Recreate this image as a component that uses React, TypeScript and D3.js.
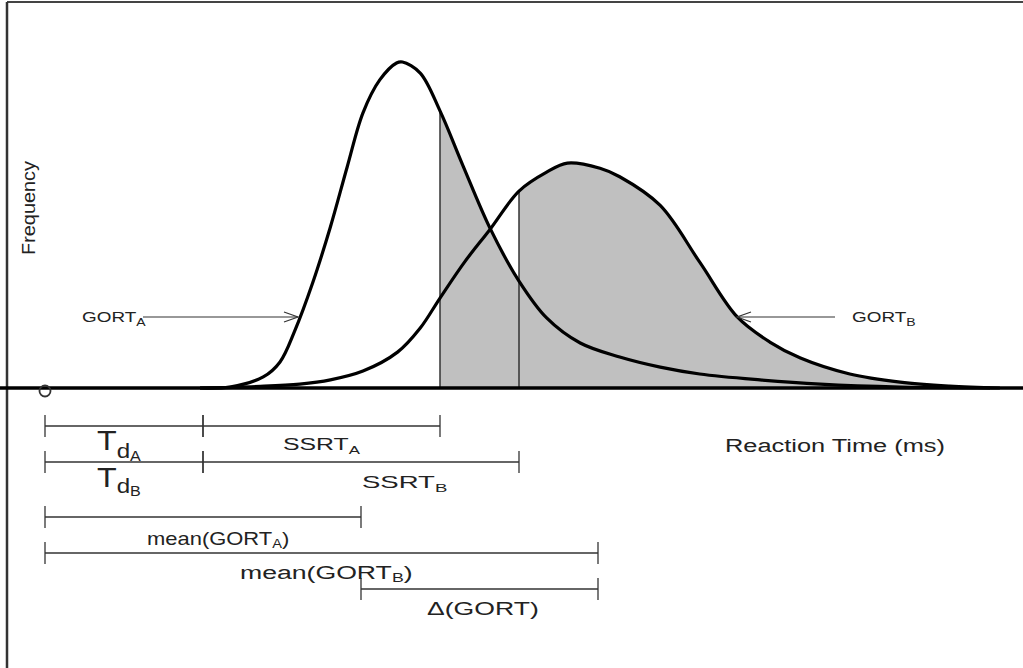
import React from "react";
import * as d3 from "d3";

// Reaction time (ms) and frequency (relative, peak of GORT_A = 100)
const timeA = [157, 187, 221, 238, 253, 271, 289, 306, 322, 339, 356, 362, 380, 400, 423, 451, 480, 508, 542, 582, 623, 663, 724, 785, 866, 957];
const freqA = [0, 0.3, 3.4, 8, 17.6, 32.2, 49.4, 67.8, 84.4, 94.5, 99.7, 100, 96.6, 85, 68.4, 48.8, 32.8, 21.5, 13.8, 9.5, 6.4, 4.3, 2.5, 1.2, 0.3, 0];
const timeB = [157, 218, 258, 289, 322, 357, 380, 400, 425, 451, 480, 508, 529, 562, 582, 623, 663, 701, 734, 765, 815, 866, 916, 967];
const freqB = [0, 0.5, 1.2, 2.5, 5.2, 11, 18.4, 27.6, 38.7, 48.8, 60.4, 66.2, 69, 67.4, 64.8, 56, 38.6, 21.8, 14.1, 9.2, 4.3, 1.8, 0.6, 0];

// Markers on the time axis (ms)
const TD = 160;
const SSRT_A_END = 400;
const SSRT_B_END = 480;
const MEAN_A = 320;
const MEAN_B = 560;

// Interval bars: from, to, row
const intervalFrom = [0, TD, 0, TD, 0, 0, MEAN_A];
const intervalTo = [TD, SSRT_A_END, TD, SSRT_B_END, MEAN_A, MEAN_B, MEAN_B];
const intervalRow = [0, 0, 1, 1, 2, 3, 4];

const W = 1023;
const H = 668;
const rowY = [426, 462, 517, 553, 589];
const FONT = "'Liberation Sans', Arial, sans-serif";
const TXT = "#222";

type Part = { t: string; size: number; dy?: number };

function Label({ x, y, sx, parts }: { x: number; y: number; sx: number; parts: Part[] }) {
  return (
    <g transform={`translate(${x},${y}) scale(${sx},1)`}>
      <text x={0} y={0} fontFamily={FONT} fill={TXT}>
        {parts.map((p, i) => (
          <tspan key={i} fontSize={p.size} y={p.dy || 0}>
            {p.t}
          </tspan>
        ))}
      </text>
    </g>
  );
}

export default function App() {
  const x = d3.scaleLinear().domain([0, 1000]).range([45, 45 + 987.5]);
  const y = d3.scaleLinear().domain([0, 100]).range([388, 62]);

  const dataA = timeA.map((t, i) => [t, freqA[i]] as [number, number]);
  const dataB = timeB.map((t, i) => [t, freqB[i]] as [number, number]);

  const curve = d3.curveCatmullRom.alpha(0.5);
  const line = d3
    .line<[number, number]>()
    .x((d) => x(d[0]))
    .y((d) => Math.min(y(0), y(d[1])))
    .curve(curve);
  const area = d3
    .area<[number, number]>()
    .x((d) => x(d[0]))
    .y0(y(0))
    .y1((d) => y(d[1]))
    .curve(curve);

  const fA = freqA[timeA.indexOf(SSRT_A_END)];
  const fB = freqB[timeB.indexOf(SSRT_B_END)];

  const arrowHead = (tipX: number, tipY: number, dir: number) =>
    `M${tipX - dir * 14},${tipY - 5} L${tipX},${tipY} L${tipX - dir * 14},${tipY + 5}`;

  return (
    <svg width={W} height={H} style={{ position: "absolute", left: 0, top: 0, background: "#fff" }}>
      <defs>
        <clipPath id="clipA">
          <rect x={x(SSRT_A_END)} y={0} width={x(SSRT_B_END) - x(SSRT_A_END)} height={y(0)} />
        </clipPath>
        <clipPath id="clipB">
          <rect x={x(SSRT_B_END)} y={0} width={W - x(SSRT_B_END)} height={y(0)} />
        </clipPath>
      </defs>

      {/* frame */}
      <line x1={7} y1={2} x2={W} y2={2} stroke="#444" strokeWidth={2} />
      <line x1={7} y1={2} x2={7} y2={H} stroke="#333" strokeWidth={2.5} />

      {/* shaded areas */}
      <path d={area(dataA) || ""} fill="#c0c0c0" clipPath="url(#clipA)" />
      <path d={area(dataB) || ""} fill="#c0c0c0" clipPath="url(#clipB)" />
      <line x1={x(SSRT_A_END)} x2={x(SSRT_A_END)} y1={y(0)} y2={y(fA)} stroke="#333" strokeWidth={1.5} />
      <line x1={x(SSRT_B_END)} x2={x(SSRT_B_END)} y1={y(0)} y2={y(fB)} stroke="#333" strokeWidth={1.5} />

      {/* curves */}
      <path d={line(dataB) || ""} fill="none" stroke="#000" strokeWidth={3.2} />
      <path d={line(dataA) || ""} fill="none" stroke="#000" strokeWidth={3.2} />

      {/* baseline */}
      <line x1={0} x2={W} y1={y(0)} y2={y(0)} stroke="#000" strokeWidth={3.5} />
      <circle cx={x(0)} cy={y(0) + 3} r={5.5} fill="none" stroke="#333" strokeWidth={1.8} />

      {/* Frequency label */}
      <text
        transform={`translate(35,208) rotate(-90)`}
        textAnchor="middle"
        fontFamily={FONT}
        fontSize={19}
        fill={TXT}
        textLength={94}
        lengthAdjust="spacingAndGlyphs"
      >
        Frequency
      </text>

      {/* GORT arrows */}
      <Label x={82} y={322} sx={1.22} parts={[{ t: "GORT", size: 15.5 }, { t: "A", size: 11.5, dy: 4 }]} />
      <line x1={143} x2={298} y1={317} y2={317} stroke="#333" strokeWidth={1.2} />
      <path d={arrowHead(298, 317, 1)} fill="none" stroke="#333" strokeWidth={1.2} />

      <Label x={852} y={322} sx={1.22} parts={[{ t: "GORT", size: 15.5 }, { t: "B", size: 11.5, dy: 4 }]} />
      <line x1={737} x2={835} y1={317} y2={317} stroke="#333" strokeWidth={1.2} />
      <path d={arrowHead(737, 317, -1)} fill="none" stroke="#333" strokeWidth={1.2} />

      {/* interval bars */}
      {intervalFrom.map((f, i) => {
        const yy = rowY[intervalRow[i]];
        const x1 = x(f);
        const x2 = x(intervalTo[i]);
        return (
          <g key={i} stroke="#333" strokeWidth={1.3}>
            <line x1={x1} x2={x2} y1={yy} y2={yy} />
            <line x1={x1} x2={x1} y1={yy - 11} y2={yy + 11} />
            <line x1={x2} x2={x2} y1={yy - 11} y2={yy + 11} />
          </g>
        );
      })}

      {/* interval labels */}
      <Label x={97} y={450} sx={1.15} parts={[{ t: "T", size: 28 }, { t: "d", size: 21, dy: 8 }, { t: "A", size: 14, dy: 11 }]} />
      <Label x={97} y={487} sx={1.15} parts={[{ t: "T", size: 28 }, { t: "d", size: 21, dy: 6 }, { t: "B", size: 14, dy: 9 }]} />
      <Label x={283} y={450} sx={1.46} parts={[{ t: "SSRT", size: 17 }, { t: "A", size: 11.5, dy: 4 }]} />
      <Label x={362} y={488} sx={1.62} parts={[{ t: "SSRT", size: 17 }, { t: "B", size: 11.5, dy: 4 }]} />
      <Label x={147} y={545} sx={1.22} parts={[{ t: "mean(GORT", size: 18 }, { t: "A", size: 12, dy: 3 }, { t: ")", size: 18 }]} />
      <Label x={240} y={579} sx={1.48} parts={[{ t: "mean(GORT", size: 18 }, { t: "B", size: 12, dy: 3 }, { t: ")", size: 18 }]} />
      <Label x={427} y={615} sx={1.4} parts={[{ t: "\u0394(GORT)", size: 19 }]} />
      <Label x={725} y={452} sx={1.41} parts={[{ t: "Reaction Time (ms)", size: 18 }]} />
    </svg>
  );
}
